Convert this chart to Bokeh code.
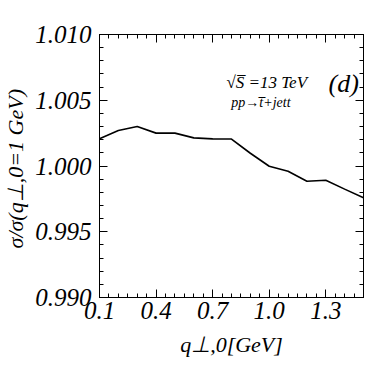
from bokeh.plotting import figure
from bokeh.models import FixedTicker, PrintfTickFormatter, CustomJSTickFormatter, LinearAxis, Label, Range1d
from bokeh.embed import file_html
from bokeh.resources import INLINE

q0 = [0.1, 0.2, 0.3, 0.4, 0.5, 0.6, 0.7, 0.8, 0.9, 1.0, 1.1, 1.2, 1.3, 1.4, 1.5]
ratio = [1.00207, 1.00270, 1.00300, 1.00250, 1.00250, 1.00214, 1.00206, 1.00205,
         1.00097, 0.99998, 0.99960, 0.99884, 0.99892, 0.99824, 0.99758]
x_major = [0.1, 0.4, 0.7, 1.0, 1.3]
y_major = [0.990, 0.995, 1.000, 1.005, 1.010]
x_title = "q\u22a5,0[GeV]"
y_title = "\u03c3/\u03c3(q\u22a5,0=1  GeV)"

FONT = "Liberation Serif"

p = figure(width=366, height=366, output_backend="svg", toolbar_location=None,
           x_range=Range1d(0.1, 1.5), y_range=Range1d(0.990, 1.010),
           min_border_left=97, min_border_right=3, min_border_top=34, min_border_bottom=69)
p.grid.visible = False
p.outline_line_color = "black"
p.outline_line_width = 1
p.background_fill_color = "white"
p.border_fill_color = "white"

x_minor = [round(0.1 + 0.05 * i, 3) for i in range(29)]
y_minor = [round(0.990 + 0.001 * i, 4) for i in range(21)]

def style(ax, labels=True):
    ax.major_tick_in = 8
    ax.major_tick_out = 0
    ax.minor_tick_in = 4
    ax.minor_tick_out = 0
    ax.major_tick_line_width = 1
    ax.minor_tick_line_width = 1
    ax.axis_line_color = "black"
    ax.major_tick_line_color = "black"
    ax.minor_tick_line_color = "black"
    ax.major_label_text_font = FONT
    ax.major_label_text_font_style = "italic"
    ax.major_label_text_font_size = "25px"
    ax.major_label_text_color = "black"
    ax.axis_label_text_font = FONT
    ax.axis_label_text_font_style = "italic"
    ax.axis_label_text_font_size = "22px"
    ax.axis_label_text_color = "black"
    if not labels:
        ax.formatter = CustomJSTickFormatter(code="return ''")
        ax.major_label_standoff = 0

p.xaxis.ticker = FixedTicker(ticks=x_major, minor_ticks=x_minor)
p.yaxis.ticker = FixedTicker(ticks=y_major, minor_ticks=y_minor)
p.xaxis.formatter = PrintfTickFormatter(format="%.1f")
p.yaxis.formatter = PrintfTickFormatter(format="%.3f")
style(p.xaxis[0])
style(p.yaxis[0])
p.xaxis.major_label_standoff = 4
p.yaxis.major_label_standoff = 8
p.xaxis.axis_label = x_title
p.yaxis.axis_label = y_title
p.xaxis.axis_label_standoff = 10
p.yaxis.axis_label_standoff = 4

top = LinearAxis(ticker=FixedTicker(ticks=x_major, minor_ticks=x_minor))
right = LinearAxis(ticker=FixedTicker(ticks=y_major, minor_ticks=y_minor))
style(top, False)
style(right, False)
p.add_layout(top, "above")
p.add_layout(right, "right")

p.line(q0, ratio, line_color="black", line_width=1.6)

def lab(x, y, t, size):
    p.add_layout(Label(x=x, y=y, text=t, text_font=FONT, text_font_style="italic",
                       text_font_size=size, text_color="black",
                       text_align="left", text_baseline="alphabetic"))

lab(0.773, 1.00635, "\u221aS\u0305 =13  TeV", "17px")
lab(1.315, 1.00630, "(d)", "26px")
lab(0.799, 1.00483, "pp\u2192t\u0305+jett", "14px")

open("out.html", "w").write(file_html(p, INLINE))
